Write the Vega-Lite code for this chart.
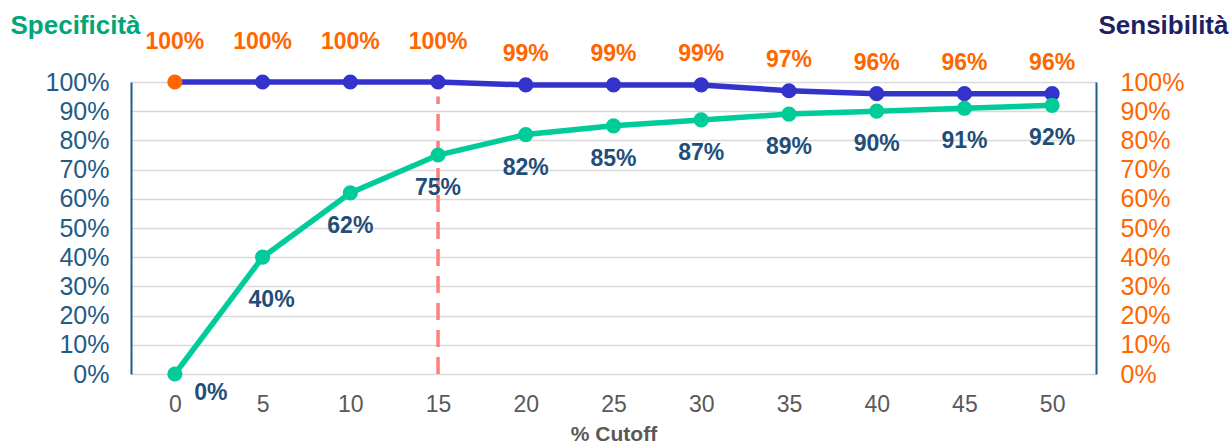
{
  "$schema": "https://vega.github.io/schema/vega-lite/v6.json",
  "width": 965,
  "height": 292,
  "autosize": {"type": "none"},
  "padding": {"left": 131, "top": 82, "right": 136, "bottom": 74},
  "background": "white",
  "config": {
    "view": {"stroke": null},
    "font": "Liberation Sans"
  },
  "datasets": {
    "main": [
      {"cutoff": 0, "series": "Sensibilità", "value": 1.00},
      {"cutoff": 5, "series": "Sensibilità", "value": 1.00},
      {"cutoff": 10, "series": "Sensibilità", "value": 1.00},
      {"cutoff": 15, "series": "Sensibilità", "value": 1.00},
      {"cutoff": 20, "series": "Sensibilità", "value": 0.99},
      {"cutoff": 25, "series": "Sensibilità", "value": 0.99},
      {"cutoff": 30, "series": "Sensibilità", "value": 0.99},
      {"cutoff": 35, "series": "Sensibilità", "value": 0.97},
      {"cutoff": 40, "series": "Sensibilità", "value": 0.96},
      {"cutoff": 45, "series": "Sensibilità", "value": 0.96},
      {"cutoff": 50, "series": "Sensibilità", "value": 0.96},
      {"cutoff": 0, "series": "Specificità", "value": 0.00},
      {"cutoff": 5, "series": "Specificità", "value": 0.40},
      {"cutoff": 10, "series": "Specificità", "value": 0.62},
      {"cutoff": 15, "series": "Specificità", "value": 0.75},
      {"cutoff": 20, "series": "Specificità", "value": 0.82},
      {"cutoff": 25, "series": "Specificità", "value": 0.85},
      {"cutoff": 30, "series": "Specificità", "value": 0.87},
      {"cutoff": 35, "series": "Specificità", "value": 0.89},
      {"cutoff": 40, "series": "Specificità", "value": 0.90},
      {"cutoff": 45, "series": "Specificità", "value": 0.91},
      {"cutoff": 50, "series": "Specificità", "value": 0.92}
    ],
    "cut": [{"cutoff": 15, "lo": 0, "hi": 0.95}]
  },
  "encoding": {
    "x": {
      "field": "cutoff",
      "type": "ordinal",
      "scale": {"type": "point", "padding": 0.5, "domain": [0, 5, 10, 15, 20, 25, 30, 35, 40, 45, 50]},
      "axis": {
        "title": "% Cutoff",
        "labelAngle": 0,
        "labelFontSize": 23,
        "labelColor": "#595959",
        "labelPadding": 19,
        "ticks": false,
        "domain": false,
        "grid": false,
        "titleFontSize": 21,
        "titleFontWeight": "bold",
        "titleColor": "#595959",
        "titlePadding": 7
      }
    }
  },
  "layer": [
    {
      "data": {"name": "main"},
      "mark": {"type": "line", "strokeWidth": 5.5},
      "encoding": {
        "y": {
          "field": "value",
          "type": "quantitative",
          "scale": {"domain": [0, 1]},
          "axis": {
            "orient": "left",
            "format": ".0%",
            "values": [0, 0.1, 0.2, 0.3, 0.4, 0.5, 0.6, 0.7, 0.8, 0.9, 1],
            "labelFontSize": 25,
            "labelColor": "#1F5C86",
            "labelPadding": 22,
            "ticks": false,
            "domainColor": "#1F5C86",
            "domainWidth": 2,
            "grid": true,
            "gridColor": "#D9D9D9",
            "gridWidth": 1.5,
            "title": "Specificità",
            "titleAngle": 0,
            "titleAlign": "left",
            "titleBaseline": "middle",
            "titleX": -121,
            "titleY": -57,
            "titleFontSize": 26,
            "titleFontWeight": "bold",
            "titleColor": "#00A67A"
          }
        },
        "color": {
          "field": "series",
          "type": "nominal",
          "scale": {"domain": ["Sensibilità", "Specificità"], "range": ["#3333CC", "#00CC99"]},
          "legend": null
        }
      }
    },
    {
      "data": {"name": "cut"},
      "mark": {"type": "rule", "color": "#FF7F7F", "strokeWidth": 3.5, "strokeDash": [17, 10]},
      "encoding": {
        "y": {"field": "lo", "type": "quantitative", "scale": {"domain": [0, 1]}, "axis": null},
        "y2": {"field": "hi"}
      }
    },
    {
      "data": {"name": "main"},
      "mark": {"type": "point", "filled": true, "size": 230, "opacity": 1},
      "encoding": {
        "y": {
          "field": "value",
          "type": "quantitative",
          "scale": {"domain": [0, 1]},
          "axis": {
            "orient": "right",
            "format": ".0%",
            "values": [0, 0.1, 0.2, 0.3, 0.4, 0.5, 0.6, 0.7, 0.8, 0.9, 1],
            "labelFontSize": 25,
            "labelColor": "#FF6600",
            "labelPadding": 24,
            "ticks": false,
            "domainColor": "#1F5C86",
            "domainWidth": 2,
            "grid": false,
            "title": "Sensibilità",
            "titleAngle": 0,
            "titleAlign": "right",
            "titleBaseline": "middle",
            "titleX": 132,
            "titleY": -57,
            "titleFontSize": 26,
            "titleFontWeight": "bold",
            "titleColor": "#1F1F66"
          }
        },
        "color": {
          "condition": {"test": "datum.series === 'Sensibilità' && datum.cutoff === 0", "value": "#FF6600"},
          "field": "series",
          "type": "nominal",
          "scale": {"domain": ["Sensibilità", "Specificità"], "range": ["#3333CC", "#00CC99"]},
          "legend": null
        }
      }
    },
    {
      "data": {"name": "main"},
      "transform": [{"filter": "datum.series === 'Sensibilità' && datum.cutoff <= 15"}],
      "mark": {"type": "text", "dy": -40, "fontSize": 23, "fontWeight": "bold", "color": "#FF6600", "baseline": "middle"},
      "encoding": {
        "y": {"field": "value", "type": "quantitative", "scale": {"domain": [0, 1]}, "axis": null},
        "text": {"field": "value", "type": "quantitative", "format": ".0%"}
      }
    },
    {
      "data": {"name": "main"},
      "transform": [{"filter": "datum.series === 'Sensibilità' && datum.cutoff > 15"}],
      "mark": {"type": "text", "dy": -31, "fontSize": 23, "fontWeight": "bold", "color": "#FF6600", "baseline": "middle"},
      "encoding": {
        "y": {"field": "value", "type": "quantitative", "scale": {"domain": [0, 1]}, "axis": null},
        "text": {"field": "value", "type": "quantitative", "format": ".0%"}
      }
    },
    {
      "data": {"name": "main"},
      "transform": [{"filter": "datum.series === 'Specificità' && datum.cutoff >= 10"}],
      "mark": {"type": "text", "dy": 33, "fontSize": 23, "fontWeight": "bold", "color": "#1F4E79", "baseline": "middle"},
      "encoding": {
        "y": {"field": "value", "type": "quantitative", "scale": {"domain": [0, 1]}, "axis": null},
        "text": {"field": "value", "type": "quantitative", "format": ".0%"}
      }
    },
    {
      "data": {"name": "main"},
      "transform": [{"filter": "datum.series === 'Specificità' && datum.cutoff === 5"}],
      "mark": {"type": "text", "dx": 9, "dy": 43, "fontSize": 23, "fontWeight": "bold", "color": "#1F4E79", "baseline": "middle"},
      "encoding": {
        "y": {"field": "value", "type": "quantitative", "scale": {"domain": [0, 1]}, "axis": null},
        "text": {"field": "value", "type": "quantitative", "format": ".0%"}
      }
    },
    {
      "data": {"name": "main"},
      "transform": [{"filter": "datum.series === 'Specificità' && datum.cutoff === 0"}],
      "mark": {"type": "text", "dx": 36, "dy": 19, "fontSize": 23, "fontWeight": "bold", "color": "#1F4E79", "baseline": "middle"},
      "encoding": {
        "y": {"field": "value", "type": "quantitative", "scale": {"domain": [0, 1]}, "axis": null},
        "text": {"field": "value", "type": "quantitative", "format": ".0%"}
      }
    }
  ],
  "resolve": {"scale": {"y": "independent", "color": "shared"}}
}
